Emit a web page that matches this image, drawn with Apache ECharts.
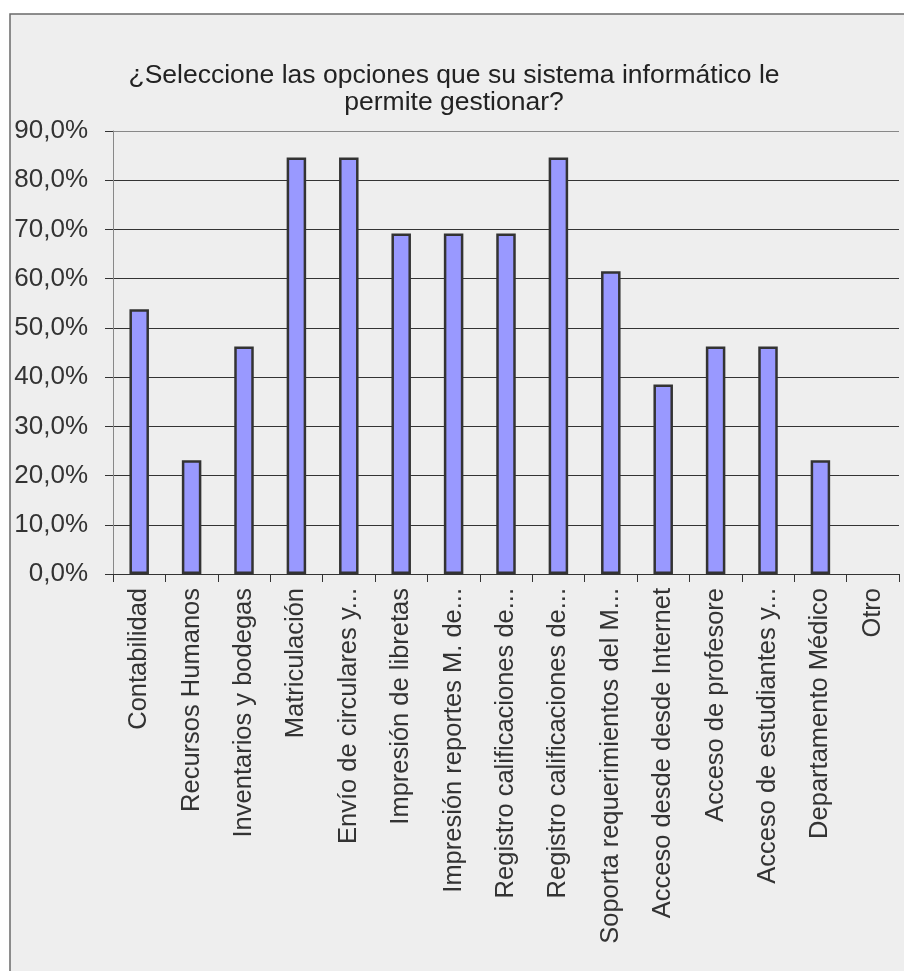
<!DOCTYPE html>
<html>
<head>
<meta charset="utf-8">
<script src="https://cdn.jsdelivr.net/npm/echarts@6/dist/echarts.min.js"></script>
<style>
html,body{margin:0;padding:0;background:#ffffff;}
#chart{width:904px;height:971px;}
</style>
</head>
<body>
<div id="chart"></div>
<script>
const titleText = '¿Seleccione las opciones que su sistema informático le\npermite gestionar?';
const categories = [
  'Contabilidad',
  'Recursos Humanos',
  'Inventarios y bodegas',
  'Matriculación',
  'Envío de circulares y...',
  'Impresión de libretas',
  'Impresión reportes M. de...',
  'Registro calificaciones de...',
  'Registro calificaciones de...',
  'Soporta requerimientos del M...',
  'Acceso desde desde Internet',
  'Acceso de profesore',
  'Acceso de estudiantes y...',
  'Departamento Médico',
  'Otro'
];
const values = [53.8, 23.1, 46.2, 84.6, 84.6, 69.2, 69.2, 69.2, 84.6, 61.5, 38.5, 46.2, 46.2, 23.1, 0];
const yMin = 0, yMax = 90, yStep = 10;

const FONT = "'Liberation Sans', Arial, sans-serif";
const chart = echarts.init(document.getElementById('chart'), null, {renderer: 'canvas'});
chart.setOption({
  backgroundColor: '#ffffff',
  animation: false,
  graphic: [{
    type: 'rect',
    z: -10,
    silent: true,
    shape: {x: 10, y: 14, width: 1000, height: 1000},
    style: {fill: '#eeeeee', stroke: '#6a6a6a', lineWidth: 1.5}
  }],
  title: {
    text: titleText,
    left: 449,
    top: 57,
    textAlign: 'center',
    textStyle: {
      fontFamily: FONT,
      fontSize: 26.5,
      fontWeight: 'normal',
      color: '#222222',
      lineHeight: 27
    }
  },
  grid: {left: 113, right: 5, top: 131, bottom: 397, containLabel: false},
  xAxis: {
    type: 'category',
    data: categories,
    axisLine: {show: true, lineStyle: {color: '#333333', width: 1}},
    axisTick: {show: true, length: 8, lineStyle: {color: '#333333'}},
    axisLabel: {
      rotate: 90,
      interval: 0,
      margin: 14,
      fontFamily: FONT,
      fontSize: 25.5,
      color: '#333333',
      formatter: function (v, i) { return categories[i]; }
    },
    splitLine: {show: false}
  },
  yAxis: {
    type: 'value',
    min: yMin,
    max: yMax,
    interval: yStep,
    axisLine: {show: true, lineStyle: {color: '#888888', width: 1}},
    axisTick: {show: true, length: 8, lineStyle: {color: '#333333'}},
    axisLabel: {
      margin: 25,
      fontFamily: FONT,
      fontSize: 26,
      color: '#333333',
      formatter: function (v) { return v.toFixed(1).replace('.', ',') + '%'; }
    },
    splitLine: {
      show: true,
      lineStyle: {
        color: ['#333333','#333333','#333333','#333333','#333333','#333333','#333333','#333333','#333333','#888888'],
        width: 1
      }
    }
  },
  series: [{
    type: 'bar',
    data: values.map(function (v) {
      return v === 0 ? {value: v, itemStyle: {borderWidth: 0}} : v;
    }),
    barWidth: 19.5,
    itemStyle: {color: '#9999ff', borderColor: '#333333', borderWidth: 2.5}
  }]
});
</script>
</body>
</html>
